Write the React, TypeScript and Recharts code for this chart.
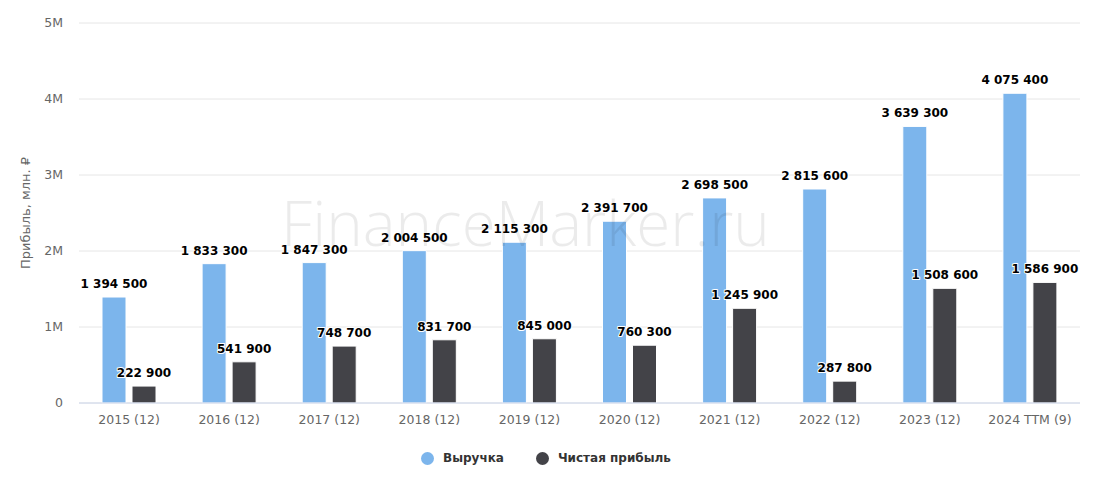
import { Bar, BarChart, CartesianGrid, LabelList, XAxis, YAxis } from 'recharts'

const categories = [
  '2015 (12)',
  '2016 (12)',
  '2017 (12)',
  '2018 (12)',
  '2019 (12)',
  '2020 (12)',
  '2021 (12)',
  '2022 (12)',
  '2023 (12)',
  '2024 TTM (9)',
]

const revenue = [1394500, 1833300, 1847300, 2004500, 2115300, 2391700, 2698500, 2815600, 3639300, 4075400]
const netProfit = [222900, 541900, 748700, 831700, 845000, 760300, 1245900, 287800, 1508600, 1586900]

const yTicks = [0, 1000000, 2000000, 3000000, 4000000, 5000000]

const series = [
  { key: 'revenue', name: 'Выручка', color: '#7cb5ec' },
  { key: 'netProfit', name: 'Чистая прибыль', color: '#434348' },
]

const FONT = '"DejaVu Sans", Verdana, sans-serif'

const chartData = categories.map((category, i) => ({
  category,
  revenue: revenue[i],
  netProfit: netProfit[i],
}))

function formatValue(v: number): string {
  return String(v).replace(/\B(?=(\d{3})+(?!\d))/g, ' ')
}

function formatTick(v: number): string {
  return v === 0 ? '0' : `${v / 1000000}M`
}

function ValueLabel(props: any) {
  const { x, y, width, value } = props
  if (value == null) return null
  return (
    <text
      x={Number(x) + Number(width) / 2}
      y={Number(y) - 9}
      textAnchor="middle"
      fontFamily={FONT}
      fontSize={12}
      fontWeight="bold"
      fill="#000000"
      stroke="#ffffff"
      strokeWidth={2}
      strokeLinejoin="round"
      paintOrder="stroke"
    >
      {formatValue(Number(value))}
    </text>
  )
}

export default function App() {
  return (
    <div
      style={{
        position: 'fixed',
        left: 0,
        top: 0,
        width: 1104,
        height: 491,
        background: '#ffffff',
        fontFamily: FONT,
      }}
    >
      <BarChart
        width={1104}
        height={491}
        data={chartData}
        margin={{ top: 23, right: 24, bottom: 58, left: 19 }}
        barSize={24}
        barGap={6}
      >
        <CartesianGrid vertical={false} stroke="#e6e6e6" />
        <XAxis
          dataKey="category"
          height={30}
          axisLine={{ stroke: '#ccd6eb' }}
          tickLine={false}
          tickSize={0}
          tickMargin={12}
          interval={0}
          tick={{ fill: '#666666', fontSize: 12.5, fontFamily: FONT }}
        />
        <YAxis
          width={60}
          domain={[0, 5000000]}
          ticks={yTicks}
          tickFormatter={formatTick}
          axisLine={false}
          tickLine={false}
          tickSize={0}
          tickMargin={16}
          tick={{ fill: '#666666', fontSize: 12.5, fontFamily: FONT }}
        />
        {series.map((s) => (
          <Bar
            key={s.key}
            dataKey={s.key}
            name={s.name}
            fill={s.color}
            stroke="#ffffff"
            strokeWidth={1}
            isAnimationActive={false}
          >
            <LabelList dataKey={s.key} content={<ValueLabel />} />
          </Bar>
        ))}
      </BarChart>

      <div
        style={{
          position: 'absolute',
          left: 25,
          top: 213,
          transform: 'translate(-50%, -50%) rotate(-90deg)',
          whiteSpace: 'nowrap',
          fontSize: 13,
          color: '#666666',
        }}
      >
        Прибыль, млн. ₽
      </div>

      <div
        style={{
          position: 'absolute',
          left: 281,
          top: 180,
          fontFamily: '"Open Sans", sans-serif',
          fontWeight: 300,
          fontSize: 62,
          color: 'rgba(0, 0, 0, 0.08)',
          whiteSpace: 'nowrap',
          pointerEvents: 'none',
        }}
      >
        FinanceMarker.ru
      </div>

      <div
        style={{
          position: 'absolute',
          left: 421,
          top: 451,
          display: 'flex',
          alignItems: 'center',
          gap: 32,
          fontSize: 12,
          fontWeight: 'bold',
          color: '#333333',
        }}
      >
        {series.map((s) => (
          <div key={s.key} style={{ display: 'flex', alignItems: 'center', gap: 9 }}>
            <span
              style={{
                display: 'inline-block',
                width: 13,
                height: 13,
                borderRadius: '50%',
                background: s.color,
              }}
            />
            <span>{s.name}</span>
          </div>
        ))}
      </div>
    </div>
  )
}
